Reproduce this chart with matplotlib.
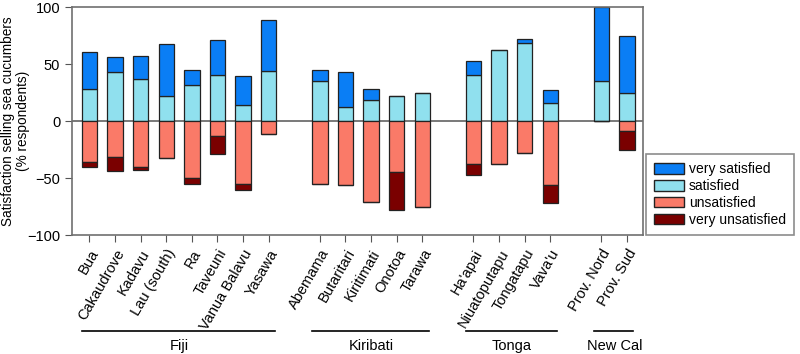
import matplotlib.pyplot as plt
import matplotlib.transforms as mtransforms
from matplotlib.patches import Patch
import numpy as np

plt.rcParams['font.family'] = ['Liberation Sans', 'DejaVu Sans']

# data (% respondents)
groups = ['Fiji', 'Kiribati', 'Tonga', 'New Cal']
sites = [
    ['Bua', 'Cakaudrove', 'Kadavu', 'Lau (south)', 'Ra', 'Taveuni', 'Vanua Balavu', 'Yasawa'],
    ['Abemama', 'Butaritari', 'Kiritimati', 'Onotoa', 'Tarawa'],
    ["Ha'apai", 'Niuatoputapu', 'Tongatapu', "Vava'u"],
    ['Prov. Nord', 'Prov. Sud'],
]
satisfied = [28, 43.3, 36.8, 21.9, 31.6, 40.4, 14.3, 44.2,
             34.8, 12.3, 18.7, 21.9, 24.6,
             40.6, 62.3, 68.4, 15.5,
             35.4, 24.6]
very_satisfied = [32.5, 12.5, 19.9, 45.6, 13.4, 30.9, 25.2, 44.1,
                  9.6, 31, 9.4, 0, 0,
                  12, 0, 3.2, 12,
                  64.6, 50.3]
unsatisfied = [36, 31.3, 40.1, 32.5, 50.3, 12.9, 55, 11.1,
               55, 56.4, 71.3, 44.7, 75.1,
               37.4, 37.7, 28.4, 55.8,
               0, 8.5]
very_unsatisfied = [4, 12.9, 3.2, 0, 4.7, 15.8, 5.2, 0,
                    0, 0, 0, 33.4, 0,
                    9.7, 0, 0, 16.1,
                    0, 16.9]

# positions: one empty slot between groups
pos = []
group_span = []
p = 0
for g in sites:
    start = p
    for s in g:
        pos.append(p)
        p += 1
    group_span.append((start, p - 1))
    p += 1
pos = np.array(pos)
labels = [s for g in sites for s in g]

sat = np.array(satisfied)
vs = np.array(very_satisfied)
uns = np.array(unsatisfied)
vu = np.array(very_unsatisfied)

c_vs = '#0a7ef5'
c_s = '#90e0ee'
c_u = '#fa7a68'
c_vu = '#7a0000'

fig = plt.figure(figsize=(8, 3.54), dpi=100)
ax = fig.add_axes([0.09, 0.336, 0.714, 0.644])

w = 0.6
kw = dict(width=w, edgecolor='#222222', linewidth=0.9, zorder=2)
ax.bar(pos, sat, color=c_s, **kw)
ax.bar(pos, vs, bottom=sat, color=c_vs, **kw)
ax.bar(pos, -uns, color=c_u, **kw)
ax.bar(pos, -vu, bottom=-uns, color=c_vu, **kw)

ax.axhline(0, color='#555555', lw=1.1, zorder=1)

ax.set_xlim(-0.68, 21.63)
ax.set_ylim(-100, 100)
ax.set_yticks([-100, -50, 0, 50, 100])
ax.set_xticks(pos)
ax.set_xticklabels(labels, rotation=60, ha='right', rotation_mode='anchor', fontsize=10.5)
ax.tick_params(axis='y', labelsize=10.5, direction='out', length=5, color='#555555')
ax.tick_params(axis='x', direction='out', length=5, color='#555555')
for sp in ax.spines.values():
    sp.set_color('#707070')
    sp.set_linewidth(1.2)
ax.set_ylabel('Satisfaction selling sea cucumbers\n(% respondents)', fontsize=9.8,
              linespacing=1.05)
ax.yaxis.set_label_coords(-0.074, 0.5)

# group lines and names under the tick labels
trans = mtransforms.blended_transform_factory(ax.transData, ax.transAxes)
for name, (a, b) in zip(groups, group_span):
    ax.plot([a - 0.3, b + 0.25], [-0.421, -0.421], color='black', lw=1.2,
            transform=trans, clip_on=False)
    ax.text((a + b) / 2, -0.485, name, transform=trans, ha='center', va='center',
            fontsize=10.5)

handles = [Patch(facecolor=c_vs, edgecolor='#222222', label='very satisfied'),
           Patch(facecolor=c_s, edgecolor='#222222', label='satisfied'),
           Patch(facecolor=c_u, edgecolor='#222222', label='unsatisfied'),
           Patch(facecolor=c_vu, edgecolor='#222222', label='very unsatisfied')]
leg = fig.legend(handles=handles, loc='lower left', bbox_to_anchor=(0.8075, 0.336, 0.185, 0.235),
                 mode='expand', fontsize=10, fancybox=False, edgecolor='#707070',
                 handlelength=2.1, handleheight=0.8, labelspacing=0.2, borderpad=0.6,
                 handletextpad=0.4, borderaxespad=0)
leg.get_frame().set_linewidth(1.2)

fig.savefig('out.png', dpi=100)
